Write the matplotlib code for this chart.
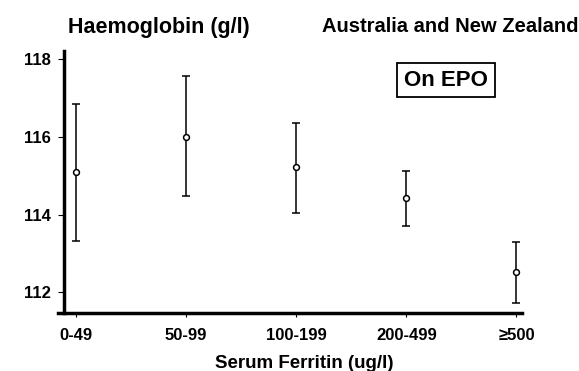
import matplotlib
matplotlib.use("Agg")
import matplotlib.pyplot as plt
import numpy as np

# serum ferritin groups and haemoglobin means with error bar ends
groups = ["0-49", "50-99", "100-199", "200-499", "\u2265500"]
hb_mean = [115.09, 116.00, 115.22, 114.42, 112.52]
hb_low = [113.32, 114.48, 114.05, 113.71, 111.72]
hb_high = [116.85, 117.55, 116.36, 115.13, 113.30]
y_ticks = [112, 114, 116, 118]

plt.rcParams["font.family"] = ["Liberation Sans", "DejaVu Sans"]

fig = plt.figure(figsize=(5.79, 3.71), dpi=100)
ax = fig.add_axes([58 / 579, 1 - 313 / 371, (522 - 58) / 579, (313 - 51) / 371])

x = np.arange(len(groups))
mean = np.array(hb_mean)
yerr = [mean - np.array(hb_low), np.array(hb_high) - mean]
ax.errorbar(x, mean, yerr=yerr, fmt="o", color="black", ecolor="black",
            elinewidth=1.1, capsize=3.2, capthick=1.1,
            markersize=4.2, markerfacecolor="white", markeredgewidth=1.1)

ax.set_xlim(-0.164, 4.05)
ax.set_ylim(111.47, 118.2)
ax.spines["left"].set_position(("data", -0.109))
ax.spines["top"].set_visible(False)
ax.spines["right"].set_visible(False)
ax.spines["left"].set_linewidth(2.5)
ax.spines["bottom"].set_linewidth(2.5)

ax.set_xticks(x)
ax.set_xticklabels(groups, fontsize=12, fontweight="bold")
ax.set_yticks(y_ticks)
ax.set_yticklabels([str(t) for t in y_ticks], fontsize=12, fontweight="bold")
ax.tick_params(axis="y", length=4.5, width=0.8, pad=5)
ax.tick_params(axis="x", length=3, width=0.8, pad=8)

ax.set_xlabel("Serum Ferritin (ug/l)", fontsize=13.5, fontweight="bold",
              va="center")
ax.xaxis.set_label_coords((304 - 58) / 464, (313 - 364) / 262)

fig.text(159 / 579, 1 - 27 / 371, "Haemoglobin (g/l)", fontsize=15.5,
         fontweight="bold", ha="center", va="center")
fig.text(450 / 579, 1 - 27 / 371, "Australia and New Zealand", fontsize=14.5,
         fontweight="bold", ha="center", va="center")
fig.text(446 / 579, 1 - 80 / 371, "On EPO", fontsize=16, fontweight="bold",
         ha="center", va="center",
         bbox=dict(boxstyle="square,pad=0.3", facecolor="white",
                   edgecolor="black", linewidth=1.3))

fig.savefig("out.png", dpi=100)
